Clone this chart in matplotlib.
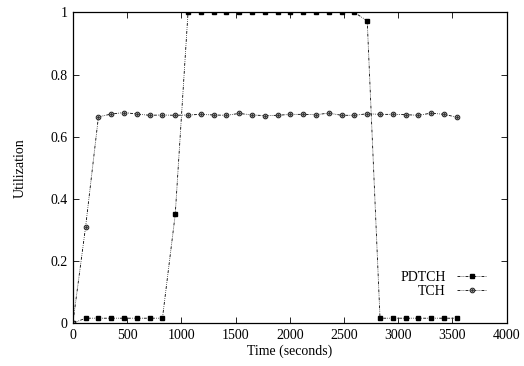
import numpy as np
import matplotlib
matplotlib.use("Agg")
import matplotlib.pyplot as plt
from matplotlib.legend_handler import HandlerTuple

plt.rcParams['font.family'] = ['Liberation Serif', 'DejaVu Serif']
plt.rcParams['font.size'] = 10

# sample times (s), one every ~118 s
step = 118
times = [i * step for i in range(31)]

pdtch = [0.0, 0.016, 0.016, 0.016, 0.016, 0.016, 0.016, 0.016, 0.35,
         1.0, 1.0, 1.0, 1.0, 1.0, 1.0, 1.0, 1.0, 1.0, 1.0, 1.0, 1.0, 1.0, 1.0,
         0.973, 0.016, 0.016, 0.016, 0.016, 0.016, 0.016, 0.016]

tch = [0.0, 0.311, 0.664, 0.673, 0.678, 0.673, 0.669, 0.670, 0.669, 0.670,
       0.672, 0.670, 0.669, 0.675, 0.670, 0.668, 0.669, 0.672, 0.672, 0.671,
       0.676, 0.669, 0.669, 0.674, 0.672, 0.672, 0.671, 0.669, 0.676, 0.672,
       0.663]

dash = (0, (3.5, 1.5, 0.8, 1.5, 0.8, 1.5))

fig = plt.figure(figsize=(5.24, 3.66), dpi=100)
ax = fig.add_axes([0.139, 0.117, 0.828, 0.849])

l1, = ax.plot(times, pdtch, color='black', lw=0.6, linestyle=dash,
              marker='s', ms=3.4, mfc='black', mec='black')
l2, = ax.plot(times, tch, color='black', lw=0.6, linestyle=dash,
              marker='o', ms=3.3, mfc='#eeeeee', mec='#222222', mew=0.75)
l3, = ax.plot(times, tch, linestyle='none', marker='o', ms=1.0,
              mfc='#333333', mec='#333333')

ax.set_xlim(0, 4000)
ax.set_ylim(0, 1)
ax.set_xticks(np.arange(0, 4001, 500))
ax.set_yticks([0, 0.2, 0.4, 0.6, 0.8, 1.0])
ax.set_yticklabels(['0', '0.2', '0.4', '0.6', '0.8', '1'])
ax.tick_params(direction='in', top=True, right=True, length=4, width=0.6,
               pad=4)
for s in ax.spines.values():
    s.set_linewidth(0.9)

ax.set_xlabel('Time (seconds)', labelpad=2)
ax.set_ylabel('Utilization', labelpad=17)

ax.legend([l1, (l2, l3)], ['PDTCH', 'TCH'],
          handler_map={tuple: HandlerTuple(ndivide=1, pad=0)},
          loc='lower right', bbox_to_anchor=(0.978, 0.05), frameon=False,
          markerfirst=False, numpoints=1, handlelength=2.2, handletextpad=0.8,
          labelspacing=0.1, borderpad=0.2, fontsize=10)

fig.savefig('out.png', dpi=100)
